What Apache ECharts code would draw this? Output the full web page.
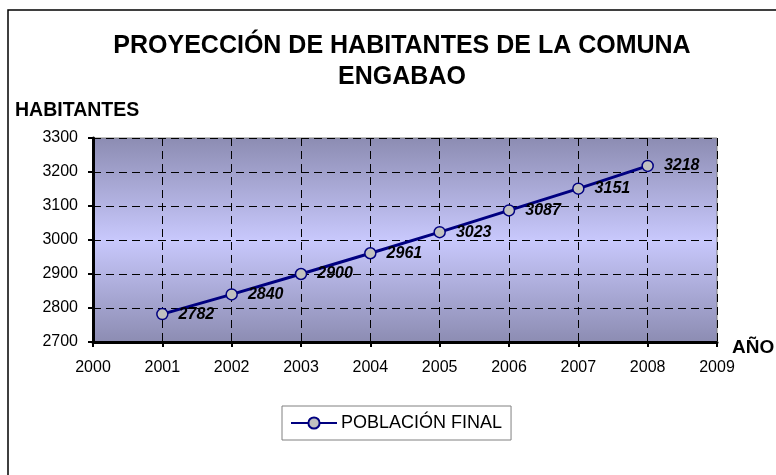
<!DOCTYPE html>
<html><head><meta charset="utf-8">
<script src="https://cdn.jsdelivr.net/npm/echarts@6/dist/echarts.min.js"></script>
<style>html,body{margin:0;padding:0;background:#fff}#c{width:776px;height:475px}</style>
</head><body><div id="c"></div>
<script>
const years = [2001, 2002, 2003, 2004, 2005, 2006, 2007, 2008];
const poblacion = [2782, 2840, 2900, 2961, 3023, 3087, 3151, 3218];
const titleText = 'PROYECCIÓN DE HABITANTES DE LA COMUNA\nENGABAO';
const yName = 'HABITANTES';
const xName = 'AÑO';
const seriesName = 'POBLACIÓN FINAL';

const chart = echarts.init(document.getElementById('c'), null, {renderer: 'canvas'});
const F = 'Liberation Sans, Arial, sans-serif';
chart.setOption({
  animation: false,
  textStyle: {fontFamily: F},
  title: {
    text: titleText, left: 397, top: 26, textAlign: 'center',
    textStyle: {fontSize: 25, fontWeight: 'bold', color: '#000', lineHeight: 31, fontFamily: F}
  },
  graphic: [
    {type: 'rect', shape: {x: 8, y: 10, width: 820, height: 520}, style: {fill: 'none', stroke: '#000', lineWidth: 1.5}, silent: true, z: -1},
    {type: 'text', left: 15, top: 101, style: {text: yName, font: 'bold 19.5px Liberation Sans, Arial', fill: '#000'}}
  ],
  legend: {
    data: [seriesName], top: 406, left: 282,
    padding: [8, 9, 8, 8],
    borderColor: '#808080', borderWidth: 1,
    itemWidth: 46, itemHeight: 14, itemGap: 4,
    textStyle: {fontSize: 18, color: '#000', fontFamily: F, padding: [0, 0, 0, -1]}
  },
  grid: {
    left: 93, right: 59, top: 138, bottom: 133,
    show: true, borderColor: '#808080', borderWidth: 1,
    backgroundColor: new echarts.graphic.LinearGradient(0, 0, 0, 1, [
      {offset: 0, color: '#8c8cb2'},
      {offset: 0.5, color: '#c8c8fc'},
      {offset: 1, color: '#8c8cb2'}
    ])
  },
  xAxis: {
    type: 'value', min: 2000, max: 2009, interval: 1,
    name: xName, nameLocation: 'end', nameGap: 15,
    nameTextStyle: {fontSize: 19, fontWeight: 'bold', color: '#000', fontFamily: F, verticalAlign: 'top', lineHeight: 12},
    axisLine: {show: true, lineStyle: {color: '#000', width: 3}},
    axisTick: {show: true, length: 5, lineStyle: {color: '#000', width: 2}},
    axisLabel: {fontSize: 16, color: '#000', margin: 18, fontFamily: F, formatter: v => String(v)},
    splitLine: {show: true, lineStyle: {color: '#000', type: [8, 5], width: 1}}
  },
  yAxis: {
    type: 'value', min: 2700, max: 3300, interval: 100,
    axisLine: {show: true, lineStyle: {color: '#000', width: 3}},
    axisTick: {show: true, length: 5, lineStyle: {color: '#000', width: 2}},
    axisLabel: {fontSize: 16, color: '#000', margin: 15, fontFamily: F, formatter: v => String(v)},
    splitLine: {show: true, lineStyle: {color: '#000', type: [8, 5], width: 1}}
  },
  series: [{
    name: seriesName, type: 'line',
    data: years.map((y, i) => [y, poblacion[i]]),
    symbol: 'circle', symbolSize: 11,
    lineStyle: {color: '#000080', width: 3},
    itemStyle: {color: '#c0c0c0', borderColor: '#000080', borderWidth: 1.5},
    label: {
      show: true, position: 'right', distance: 10,
      formatter: p => p.value[1],
      fontSize: 16, fontWeight: 'bold', fontStyle: 'italic', color: '#000', fontFamily: F
    }
  }]
});
</script></body></html>
